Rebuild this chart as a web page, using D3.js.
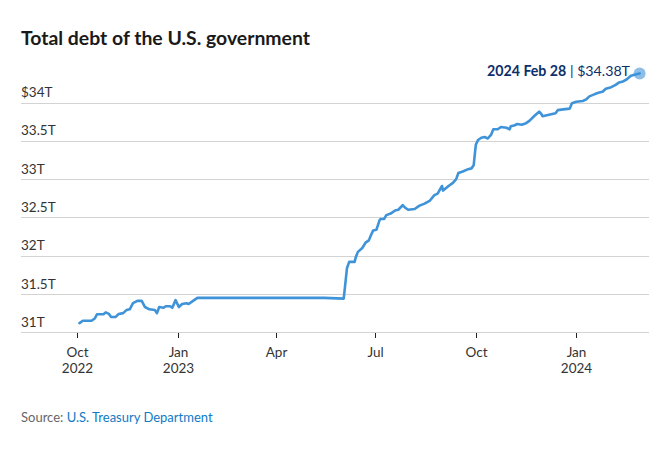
<!DOCTYPE html>
<html>
<head>
<meta charset="utf-8">
<script src="https://cdn.jsdelivr.net/npm/d3@7/dist/d3.min.js"></script>
<style>
  html, body { margin: 0; padding: 0; background: #fff; }
  svg { display: block; font-family: Lato, "Open Sans", sans-serif; }
</style>
</head>
<body>
<svg id="chart" width="672" height="456"></svg>
<script>
// ---- data ----
const dates = [
  "2022-10-03","2022-10-06","2022-10-14","2022-10-17","2022-10-19","2022-10-25","2022-10-27","2022-10-30",
  "2022-11-01","2022-11-05","2022-11-08","2022-11-12","2022-11-15","2022-11-18","2022-11-21","2022-11-25","2022-11-29",
  "2022-12-02","2022-12-06","2022-12-11","2022-12-13","2022-12-15","2022-12-19","2022-12-21","2022-12-25","2022-12-27","2022-12-30",
  "2023-01-02","2023-01-05","2023-01-09","2023-01-11","2023-01-15","2023-01-19",
  "2023-02-15","2023-03-15","2023-04-15","2023-05-15","2023-06-02",
  "2023-06-05","2023-06-07","2023-06-12","2023-06-13","2023-06-15","2023-06-19","2023-06-22","2023-06-25","2023-06-27","2023-06-29",
  "2023-07-02","2023-07-05","2023-07-06","2023-07-09","2023-07-11","2023-07-15","2023-07-19","2023-07-22","2023-07-26","2023-07-28","2023-07-31",
  "2023-08-06","2023-08-10","2023-08-15","2023-08-20","2023-08-24","2023-08-27","2023-08-31",
  "2023-09-01","2023-09-06","2023-09-10","2023-09-13","2023-09-15","2023-09-19","2023-09-24","2023-09-27","2023-09-29",
  "2023-10-01","2023-10-03","2023-10-06","2023-10-09","2023-10-12","2023-10-15","2023-10-17","2023-10-21","2023-10-24","2023-10-29",
  "2023-11-01","2023-11-02","2023-11-05","2023-11-08","2023-11-12","2023-11-16","2023-11-19","2023-11-24","2023-11-28","2023-11-30",
  "2023-12-01","2023-12-07","2023-12-10","2023-12-13","2023-12-15","2023-12-20","2023-12-26","2023-12-28",
  "2024-01-01","2024-01-07","2024-01-10","2024-01-13","2024-01-18","2024-01-22","2024-01-25","2024-01-28",
  "2024-02-02","2024-02-06","2024-02-09","2024-02-12","2024-02-16","2024-02-20","2024-02-25","2024-02-28"
];
const debtTrillions = [
  31.12,31.15,31.15,31.18,31.235,31.235,31.26,31.24,
  31.20,31.20,31.24,31.25,31.29,31.30,31.38,31.41,31.41,
  31.33,31.30,31.29,31.25,31.33,31.32,31.34,31.34,31.32,31.42,
  31.33,31.37,31.38,31.37,31.41,31.45,
  31.45,31.45,31.45,31.45,31.44,
  31.84,31.92,31.92,31.98,32.05,32.10,32.17,32.20,32.27,32.33,
  32.34,32.47,32.48,32.48,32.53,32.55,32.59,32.60,32.66,32.63,32.60,
  32.61,32.65,32.68,32.72,32.79,32.81,32.91,
  32.85,32.91,32.95,33.00,33.08,33.10,33.13,33.14,33.18,
  33.45,33.51,33.54,33.55,33.53,33.58,33.65,33.65,33.68,33.67,
  33.65,33.69,33.70,33.72,33.71,33.73,33.76,33.83,33.88,33.85,
  33.82,33.84,33.85,33.86,33.90,33.91,33.92,33.99,
  34.01,34.02,34.04,34.08,34.11,34.13,34.14,34.18,
  34.20,34.23,34.26,34.27,34.30,34.35,34.37,34.38
];
const yTickValues = [31, 31.5, 32, 32.5, 33, 33.5, 34];
const yTickLabels = ["31T", "31.5T", "32T", "32.5T", "33T", "33.5T", "$34T"];
const xTickDates = ["2022-10-01","2023-01-01","2023-04-01","2023-07-01","2023-10-01","2024-01-01"];
const xTickLine1 = ["Oct","Jan","Apr","Jul","Oct","Jan"];
const xTickLine2 = ["2022","2023","","","","2024"];
const titleText = "Total debt of the U.S. government";
const annotationDate = "2024 Feb 28";
const annotationValue = "$34.38T";
const sourceLabel = "Source: ";
const sourceName = "U.S. Treasury Department";

// ---- chart ----
const parse = d3.timeParse("%Y-%m-%d");
const data = dates.map((d, i) => ({ date: parse(d), value: debtTrillions[i] }));

const svg = d3.select("#chart");
const gridLeft = 21, gridRight = 649;

const x = d3.scaleTime()
  .domain([parse("2022-10-01"), parse("2024-01-01")])
  .range([77.3, 576.3]);
const y = d3.scaleLinear()
  .domain([31, 34])
  .range([332.3, 102.5]);

// title
svg.append("text")
  .attr("x", 21).attr("y", 45)
  .attr("font-size", 19.4).attr("font-weight", 700)
  .attr("fill", "#1a1a1a")
  .text(titleText);

// gridlines + y labels
const yAxis = svg.append("g");
yTickValues.forEach((v, i) => {
  yAxis.append("line")
    .attr("x1", gridLeft).attr("x2", gridRight)
    .attr("y1", Math.round(y(v)) + 0.5).attr("y2", Math.round(y(v)) + 0.5)
    .attr("stroke", "#d3d3d3").attr("stroke-width", 1);
  yAxis.append("text")
    .attr("x", gridLeft).attr("y", y(v) - 5.5)
    .attr("font-size", 13.5).attr("fill", "#333")
    .text(yTickLabels[i]);
});

// x axis ticks
const xAxis = svg.append("g");
xTickDates.forEach((d, i) => {
  const px = Math.round(x(parse(d))) + 0.5;
  xAxis.append("line")
    .attr("x1", px).attr("x2", px)
    .attr("y1", 333).attr("y2", 338)
    .attr("stroke", "#222").attr("stroke-width", 1);
  xAxis.append("text")
    .attr("x", px).attr("y", 356.5)
    .attr("text-anchor", "middle")
    .attr("font-size", 13.5).attr("fill", "#333")
    .text(xTickLine1[i]);
  if (xTickLine2[i]) {
    xAxis.append("text")
      .attr("x", px).attr("y", 373)
      .attr("text-anchor", "middle")
      .attr("font-size", 13.5).attr("fill", "#333")
      .text(xTickLine2[i]);
  }
});

// line
const line = d3.line()
  .x(d => x(d.date))
  .y(d => y(d.value))
  .curve(d3.curveLinear);
svg.append("path")
  .datum(data)
  .attr("d", line)
  .attr("fill", "none")
  .attr("stroke", "#3f93d8")
  .attr("stroke-width", 2.6)
  .attr("stroke-linejoin", "round")
  .attr("stroke-linecap", "round");

// end point
const last = data[data.length - 1];
svg.append("circle")
  .attr("cx", x(last.date)).attr("cy", y(last.value))
  .attr("r", 6)
  .attr("fill", "#3f93d8").attr("fill-opacity", 0.6);

// annotation
const ann = svg.append("text")
  .attr("x", 630).attr("y", 76)
  .attr("text-anchor", "end")
  .attr("font-size", 14.2);
ann.append("tspan").attr("font-weight", 700).attr("fill", "#0d2f6b").text(annotationDate);
ann.append("tspan").attr("fill", "#0d2f6b").text(" | " + annotationValue);

// source
const src = svg.append("text")
  .attr("x", 21).attr("y", 422)
  .attr("font-size", 13);
src.append("tspan").attr("fill", "#666").text(sourceLabel);
src.append("tspan").attr("fill", "#0f7ac6").text(sourceName);
</script>
</body>
</html>
